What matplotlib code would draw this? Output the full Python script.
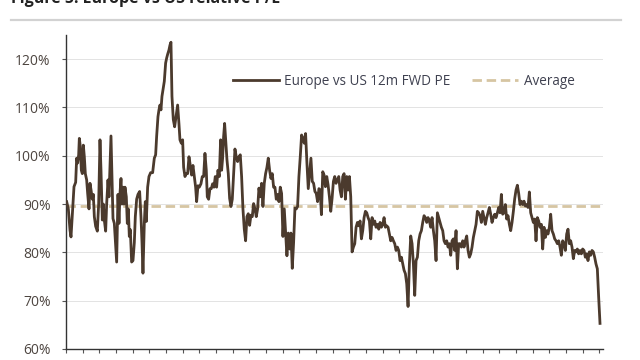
import numpy as np
import matplotlib
matplotlib.use("Agg")
import matplotlib.pyplot as plt
from matplotlib.lines import Line2D

# Europe vs US relative 12m forward P/E (ratio, %)
# 1988 - early 2003: irregular sampling, explicit decimal years
years_a = [
    1988.04, 1988.14, 1988.24, 1988.30, 1988.40, 1988.48, 1988.58, 1988.64, 1988.70, 1988.76,
    1988.80, 1988.86, 1988.92, 1988.98,
    1989.04, 1989.10, 1989.16, 1989.24, 1989.30, 1989.38, 1989.44, 1989.50, 1989.58, 1989.64,
    1989.70, 1989.78, 1989.88, 1989.96,
    1990.04, 1990.10, 1990.18, 1990.24, 1990.30, 1990.38, 1990.44, 1990.52, 1990.58, 1990.64,
    1990.70, 1990.76, 1990.82, 1990.90, 1990.96,
    1991.04, 1991.12, 1991.18, 1991.24, 1991.30, 1991.36, 1991.42, 1991.48, 1991.54, 1991.62,
    1991.68, 1991.74, 1991.80, 1991.86, 1991.94,
    1992.02, 1992.10, 1992.16, 1992.24, 1992.32, 1992.42, 1992.50, 1992.56, 1992.62, 1992.70,
    1992.76, 1992.82, 1992.90, 1992.98,
    1993.08, 1993.20, 1993.30, 1993.38, 1993.44, 1993.52, 1993.58, 1993.64, 1993.70, 1993.76,
    1993.84, 1993.90, 1993.98,
    1994.04, 1994.10, 1994.18, 1994.24, 1994.30, 1994.36, 1994.44, 1994.52, 1994.60, 1994.70,
    1994.78, 1994.84, 1994.92,
    1995.00, 1995.06, 1995.14, 1995.22, 1995.30, 1995.38, 1995.46, 1995.54, 1995.62, 1995.70,
    1995.78, 1995.84, 1995.92,
    1996.00, 1996.10, 1996.18, 1996.26, 1996.34, 1996.42, 1996.48, 1996.56, 1996.64, 1996.72,
    1996.80, 1996.88, 1996.96,
    1997.04, 1997.12, 1997.20, 1997.28, 1997.34, 1997.40, 1997.46, 1997.52, 1997.58, 1997.66,
    1997.74, 1997.82, 1997.90, 1997.98,
    1998.06, 1998.14, 1998.22, 1998.30, 1998.38, 1998.46, 1998.54, 1998.62, 1998.70, 1998.78,
    1998.86, 1998.94,
    1999.02, 1999.10, 1999.18, 1999.26, 1999.34, 1999.42, 1999.50, 1999.58, 1999.66, 1999.74,
    1999.82, 1999.90, 1999.98,
    2000.06, 2000.14, 2000.22, 2000.30, 2000.38, 2000.46, 2000.54, 2000.62, 2000.70, 2000.78,
    2000.86, 2000.94,
    2001.02, 2001.10, 2001.18, 2001.26, 2001.34, 2001.42, 2001.50, 2001.58, 2001.66, 2001.74,
    2001.82, 2001.90, 2001.98,
    2002.06, 2002.14, 2002.22, 2002.30, 2002.38, 2002.46, 2002.54, 2002.62, 2002.70, 2002.78,
    2002.86, 2002.94,
    2003.02, 2003.10, 2003.18,
]
values_a = [
    90.5, 89.0, 84.6, 83.2, 89.0, 93.6, 94.5, 99.5, 98.5, 100.2,
    103.6, 101.9, 97.0, 96.3,
    102.2, 99.8, 96.3, 95.0, 92.2, 89.0, 94.3, 93.0, 91.0, 92.0,
    87.4, 85.4, 84.4, 90.0,
    103.3, 97.0, 86.7, 90.0, 86.7, 84.4, 90.0, 95.0, 91.5, 97.5,
    104.1, 96.0, 87.0, 86.0, 82.6,
    78.0, 92.0, 86.0, 92.2, 95.3, 90.0, 93.5, 90.0, 93.5, 91.5,
    86.0, 89.0, 83.3, 84.7, 78.0,
    78.3, 82.0, 87.4, 91.0, 92.0, 92.6, 87.4, 82.2, 75.7, 86.0,
    90.5, 86.4, 93.5, 95.7,
    96.5, 96.5, 99.5, 100.2, 104.0, 108.1, 109.5, 110.5, 109.5, 112.3,
    114.0, 115.4, 119.2,
    120.2, 121.0, 121.9, 122.9, 123.5, 112.3, 107.5, 106.0, 108.0, 110.5,
    106.6, 103.3, 102.6,
    103.3, 97.6, 95.7, 96.3, 96.3, 99.8, 98.0, 96.0, 98.0, 95.7,
    93.5, 90.5, 93.8,
    93.5, 94.2, 95.7, 95.7, 100.5, 97.0, 91.5, 91.0, 93.2, 93.2,
    94.2, 93.5, 95.7,
    93.5, 97.0, 95.7, 103.3, 97.0, 99.5, 104.0, 106.7, 103.6, 99.2,
    96.3, 91.2, 89.5, 91.0,
    96.3, 101.4, 99.8, 98.8, 99.8, 100.2, 95.7, 89.0, 84.8, 82.4,
    87.4, 88.0,
    85.6, 87.7, 87.4, 90.1, 89.0, 87.4, 89.0, 93.3, 91.5, 94.3,
    89.5, 94.3, 96.3,
    97.6, 99.5, 97.0, 95.3, 96.3, 93.5, 93.5, 91.0, 92.0, 90.5,
    93.5, 92.2,
    83.3, 89.0, 84.0, 79.3, 84.0, 80.7, 84.0, 76.7, 82.0, 89.2,
    89.0, 89.5, 95.7,
    99.8, 104.3, 103.6, 102.6, 104.6, 98.5, 93.2, 96.3, 99.5, 94.7,
    94.3, 92.6,
    92.2, 90.5, 93.2,
]

# spring 2003 - early 2020: roughly monthly readings
start_b = 2003.25
step_b = 0.08
values_b = [
    92.9, 87.8, 96.7, 96.0, 93.6, 95.7, 94.0, 91.5, 88.5, 91.2,
    94.7, 95.7, 94.3, 95.0, 95.7, 92.9, 91.5, 95.7, 96.3, 91.0,
    95.7, 92.9, 95.7, 91.5, 80.1, 81.1, 81.8, 85.2, 86.2, 85.5,
    86.5, 82.8, 84.5, 87.2, 88.5, 88.2, 87.2, 86.5, 82.8, 87.2,
    85.8, 86.5, 85.2, 85.8, 84.8, 86.2, 85.2, 85.8, 87.2, 85.2,
    85.5, 85.2, 83.8, 82.4, 83.1, 82.4, 81.8, 80.4, 81.1, 80.4,
    78.3, 79.0, 77.6, 76.3, 75.6, 73.5, 68.8, 77.6, 83.4, 81.8,
    77.6, 71.1, 78.3, 79.0, 82.4, 83.8, 84.5, 86.2, 87.6, 87.2,
    86.2, 87.2, 86.5, 85.2, 87.2, 84.5, 82.4, 78.3, 88.2, 87.2,
    86.2, 85.2, 84.5, 82.4, 81.8, 82.4, 81.1, 81.8, 79.4, 82.4,
    82.8, 80.4, 84.5, 76.6, 81.8, 81.8, 81.1, 82.4, 81.1, 82.4,
    83.4, 80.4, 79.0, 79.7, 81.1, 83.1, 84.5, 85.8, 88.5, 88.2,
    87.6, 86.2, 88.5, 87.2, 85.8, 87.2, 88.2, 89.3, 87.9, 86.2,
    87.2, 87.9, 87.2, 88.2, 89.3, 88.2, 92.0, 87.9, 88.2, 89.9,
    86.9, 87.6, 85.8, 84.5, 86.2, 88.5, 91.1, 92.9, 93.9, 92.2,
    89.9, 90.6, 89.9, 90.6, 89.6, 89.9, 89.3, 92.5, 88.2, 87.2,
    86.2, 86.9, 82.4, 87.2, 86.5, 85.2, 85.8, 80.7, 85.2, 83.1,
    84.5, 83.8, 85.2, 87.9, 84.5, 83.8, 82.8, 82.4, 81.8, 82.4,
    81.1, 79.4, 82.4, 81.8, 80.4, 83.8, 84.8, 81.8, 82.4, 81.1,
    78.7, 80.4, 80.1, 80.7, 79.7, 80.4, 79.7, 80.7, 80.4, 79.0,
    79.7, 78.3, 80.1, 79.4, 80.4, 80.1, 79.0, 77.6, 76.6, 70.7,
    65.3,
]

average = 89.5
yticks = [60, 70, 80, 90, 100, 110, 120]
xticks = list(range(1988, 2021))

years = np.concatenate([years_a, start_b + step_b * np.arange(len(values_b))])
values = np.concatenate([values_a, values_b])

line_col = "#4b3a2d"
avg_col = "#d6c5a2"
text_col = "#4d4540"

plt.rcParams["font.family"] = ["Open Sans", "DejaVu Sans"]

fig = plt.figure(figsize=(6.4, 3.6), dpi=100)
ax = fig.add_axes([66 / 640, 1 - 349 / 360, (603 - 66) / 640, (349 - 35) / 360])

# title and rule above the chart (the source image crops the title)
fig.text(11 / 640, 1 - 3 / 360, "Figure 5: Europe vs US relative P/E",
         fontsize=11.5, fontweight="bold", color="#222222", va="baseline")
fig.add_artist(Line2D([11 / 640, 621 / 640], [1 - 19.5 / 360] * 2,
                      color="#d2d2d2", lw=1.6, transform=fig.transFigure))

ax.plot(years, values, color=line_col, lw=2.0, label="Europe vs US 12m FWD PE", zorder=3)
ax.axhline(average, color=avg_col, lw=2.0, dashes=(3.4, 1.7),
           label="Average", zorder=2)

ax.set_xlim(1988, 2020.23)
ax.set_ylim(60, 125)
ax.set_yticks(yticks)
ax.set_yticklabels([f"{v}%" for v in yticks])
ax.set_xticks(xticks)
ax.set_xticklabels([])

for v in yticks[1:]:
    ax.axhline(v, color="#e3e3e3", lw=0.7, zorder=1)

for s in ["top", "right"]:
    ax.spines[s].set_visible(False)
for s in ["left", "bottom"]:
    ax.spines[s].set_color("#333333")
    ax.spines[s].set_linewidth(1.0)

ax.tick_params(axis="y", length=3, width=0.8, color="#555555", pad=8,
               labelsize=10, labelcolor=text_col)
ax.tick_params(axis="x", length=3, width=0.8, color="#555555")

ax.legend(loc="upper left", bbox_to_anchor=(0.2875, 0.915), ncol=2, frameon=False,
          fontsize=9.75, handlelength=3.4, handletextpad=0.4, columnspacing=1.6,
          labelcolor="#3f4150")

fig.savefig("out.png", dpi=100)
